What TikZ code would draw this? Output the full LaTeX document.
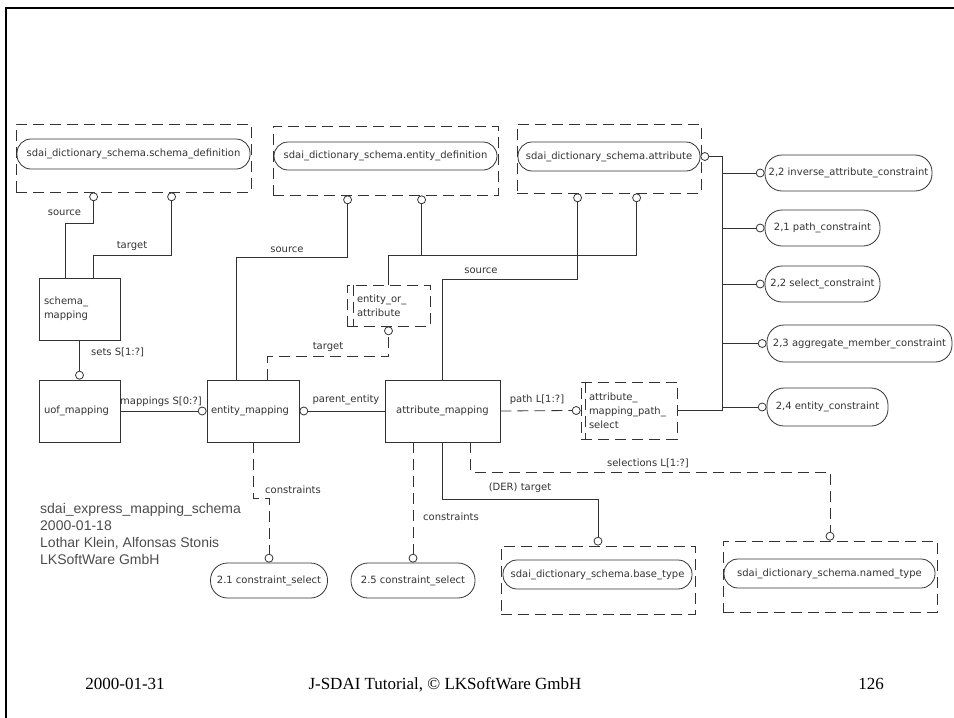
\documentclass[tikz,border=0pt]{standalone}
\usepackage{fontspec}
\setmainfont{Liberation Serif}
\newfontfamily\dfont{DejaVu Sans}
\newfontfamily\lfont{Liberation Sans}
\begin{document}
\begin{tikzpicture}[x=1pt,y=-1pt]
\tikzset{
  ink/.style={black!80},
  wire/.style={ink, line width=0.8pt},
  opt/.style={wire, dash pattern=on 11pt off 6pt},
  lbl/.style={text=black!80, inner sep=0pt, font=\dfont\fontsize{10}{14}\selectfont},
  ring/.style={circle, draw=black!80, fill=white, line width=0.8pt, minimum size=8pt, inner sep=0pt},
  dbox/.style={rectangle, draw=black!80, line width=0.8pt, dash pattern=on 11pt off 6pt, inner sep=0pt},
  stad/.style={rectangle, draw=black!80, line width=0.8pt, rounded corners=#1, inner sep=0pt,
               text=black!80, font=\dfont\fontsize{10}{14}\selectfont},
  stad/.default=14pt,
  ent/.style={rectangle, draw=black!80, line width=0.8pt, inner ysep=0pt, align=left,
              text=black!80, font=\dfont\fontsize{10}{14}\selectfont},
}
\useasboundingbox (0,0) rectangle (954,718);

% page frame
\draw[line width=2.5pt, black] (6,718) -- (6,8) -- (954,8);

% referenced schema types (dashed boxes with stadium labels)
\node[dbox, minimum width=235, minimum height=68] (sdbox) at (133.5,158) {};
\node[stad, minimum width=233, minimum height=30] (sd) at (133.5,154) {sdai\_dictionary\_schema.schema\_definition};
\node[dbox, minimum width=225, minimum height=69] (edbox) at (385.5,160.5) {};
\node[stad, minimum width=223, minimum height=28] (ed) at (385.5,156) {sdai\_dictionary\_schema.entity\_definition};
\node[dbox, minimum width=184, minimum height=69] (atbox) at (609,158.5) {};
\node[stad, minimum width=182, minimum height=29] (at) at (609,156.5) {sdai\_dictionary\_schema.attribute};
\node[dbox, minimum width=194, minimum height=68] (btbox) at (598,580) {};
\node[stad, minimum width=189, minimum height=29] (bt) at (597.5,574.5) {sdai\_dictionary\_schema.base\_type};
\node[dbox, minimum width=214, minimum height=71] (ntbox) at (830,576.5) {};
\node[stad, minimum width=211, minimum height=29] (nt) at (829.5,573.5) {sdai\_dictionary\_schema.named\_type};

% constraint references
\node[stad=17pt, minimum width=167, minimum height=36] (c1) at (848.5,173) {2,2 inverse\_attribute\_constraint};
\node[stad=17pt, minimum width=115, minimum height=36] (c2) at (822.5,228) {2,1 path\_constraint};
\node[stad=17pt, minimum width=115, minimum height=36] (c3) at (822.5,284) {2,2 select\_constraint};
\node[stad=17pt, minimum width=185, minimum height=37] (c4) at (859.5,343.5) {2,3 aggregate\_member\_constraint};
\node[stad=17pt, minimum width=121, minimum height=38] (c5) at (827.5,407) {2,4 entity\_constraint};
\node[stad=17pt, minimum width=117, minimum height=35] (cs1) at (269,580.5) {2.1 constraint\_select};
\node[stad=17pt, minimum width=124, minimum height=35] (cs5) at (413,580.5) {2.5 constraint\_select};

% entities
\node[ent, minimum width=81, minimum height=62, text width=71pt, inner xsep=5pt] (sm) at (79.5,309) {schema\_\\mapping};
\node[ent, minimum width=81, minimum height=62, text width=71pt, inner xsep=5pt] (uof) at (79.5,411) {uof\_mapping};
\node[ent, minimum width=92, minimum height=62, text width=84pt, inner xsep=4pt] (em) at (253,411) {entity\_mapping};
\node[ent, minimum width=115, minimum height=62, align=center, inner xsep=0pt] (am) at (442.5,411) {attribute\_mapping};

% select types
\node[dbox, ent, dash pattern=on 11pt off 6pt, minimum width=83, minimum height=41, text width=63pt, inner xsep=10pt] (eoa) at (388.5,305.5) {entity\_or\_\\attribute};
\node[dbox, ent, dash pattern=on 11pt off 6pt, minimum width=96, minimum height=57, text width=80pt, inner xsep=8pt] (amps) at (629,410.5) {attribute\_\\mapping\_path\_\\select};
\draw[opt] ([xshift=7pt]eoa.north west) -- ([xshift=7pt]eoa.south west);
\draw[opt] ([xshift=5pt]amps.north west) -- ([xshift=5pt]amps.south west);

% attribute ends
\node[ring, anchor=north] (sdr1) at ([xshift=78pt]sdbox.south west) {};
\node[ring, anchor=north] (sdr2) at ([xshift=156pt]sdbox.south west) {};
\node[ring, anchor=north] (edr1) at ([xshift=75pt]edbox.south west) {};
\node[ring, anchor=north] (edr2) at ([xshift=149pt]edbox.south west) {};
\node[ring, anchor=north] (atr1) at ([xshift=61pt]atbox.south west) {};
\node[ring, anchor=north] (atr2) at ([xshift=120pt]atbox.south west) {};
\node[ring, anchor=west] (atr3) at (at.east) {};
\node[ring, anchor=south] (uofr) at (uof.north) {};
\node[ring, anchor=east] (emr1) at (em.west) {};
\node[ring, anchor=west] (emr2) at (em.east) {};
\node[ring, anchor=north] (eoar) at (eoa.south) {};
\node[ring, anchor=east] (ampsr) at (amps.west) {};
\node[ring, anchor=south] (cs1r) at (cs1.north) {};
\node[ring, anchor=south] (cs5r) at (cs5.north) {};
\node[ring, anchor=south] (btr) at (btbox.north) {};
\node[ring, anchor=south] (ntr) at (ntbox.north) {};
\node[ring, anchor=east] (c1r) at (c1.west) {};
\node[ring, anchor=east] (c2r) at (c2.west) {};
\node[ring, anchor=east] (c3r) at (c3.west) {};
\node[ring, anchor=east] (c4r) at (c4.west) {};
\node[ring, anchor=east] (c5r) at (c5.west) {};

% relationships
\draw[wire] ([xshift=27pt]sm.north west) -- ++(0,-54) -| (sdr1.south);
\draw[wire] ([xshift=55pt]sm.north west) -- ++(0,-22) -| (sdr2.south);
\draw[wire] (sm.south) -- (uofr.north);
\draw[wire] (uof.east) -- (emr1.west);
\draw[wire] ([xshift=30pt]em.north west) -- ++(0,-122) -| (edr1.south);
\draw[wire] ([xshift=42pt]eoa.north west) -- ++(0,-29) -| (atr2.south);
\draw[wire] (edr2.south) |- ([xshift=42pt,yshift=29pt]eoa.north west);
\draw[wire] (am.north) -- ++(0,-100) -| (atr1.south);
\draw[opt] ([xshift=61pt]em.north west) -- ++(0,-23) -| (eoar.south);
\draw[wire] (emr2.east) -- (am.west);
\draw[opt] (am.east) -- (ampsr.west);
\coordinate (bus) at ([xshift=45pt]amps.east);
\draw[wire] (amps.east) -- (bus) |- (atr3.east);
\foreach \r in {c1r,c2r,c3r,c4r,c5r}
  \draw[wire] (\r.west) -- (\r.west -| bus);
\draw[opt] (em.south) -- ++(0,56) -| (cs1r.north);
\draw[opt] (cs5r.north |- am.south) -- (cs5r.north);
\draw[wire] ([xshift=58pt]am.south west) -- ++(0,57) -| (btr.north);
\draw[opt] ([xshift=86pt]am.south west) -- ++(0,30) -| (ntr.north);

% role names
\node[lbl] (l1) at (64.5,213) {source};
\node[lbl] (l2) at (132,246) {target};
\node[lbl, anchor=west] (l3) at (91,352) {sets S[1:?]};
\node[lbl] (l4) at (161,402) {mappings S[0:?]};
\node[lbl] (l5) at (287,250) {source};
\node[lbl] (l6) at (481,271) {source};
\node[lbl] (l7) at (328,347) {target};
\node[lbl] (l8) at (346,400) {parent\_entity};
\node[lbl] (l9) at (537,400) {path L[1:?]};
\node[lbl, anchor=west] (l10) at (265,490) {constraints};
\node[lbl, anchor=west] (l11) at (423,517) {constraints};
\node[lbl] (l12) at (520,488) {(DER) target};
\node[lbl] (l13) at (648,463) {selections L[1:?]};

% schema legend
\node[anchor=north west, align=left, inner sep=0pt, text=black!70,
      font=\lfont\fontsize{14}{17}\selectfont] (legend) at (40,503)
  {sdai\_express\_mapping\_schema\\2000-01-18\\Lothar Klein, Alfonsas Stonis\\LKSoftWare GmbH};

% footer
\node[anchor=base, inner sep=0pt, font=\fontsize{17}{20}\selectfont] (fdate) at (125,689) {2000-01-31};
\node[anchor=base, inner sep=0pt, font=\fontsize{17}{20}\selectfont] (ftitle) at (445,689) {J-SDAI Tutorial, \textcopyright{} LKSoftWare GmbH};
\node[anchor=base, inner sep=0pt, font=\fontsize{17}{20}\selectfont] (fpage) at (871,689) {126};
\end{tikzpicture}
\end{document}
